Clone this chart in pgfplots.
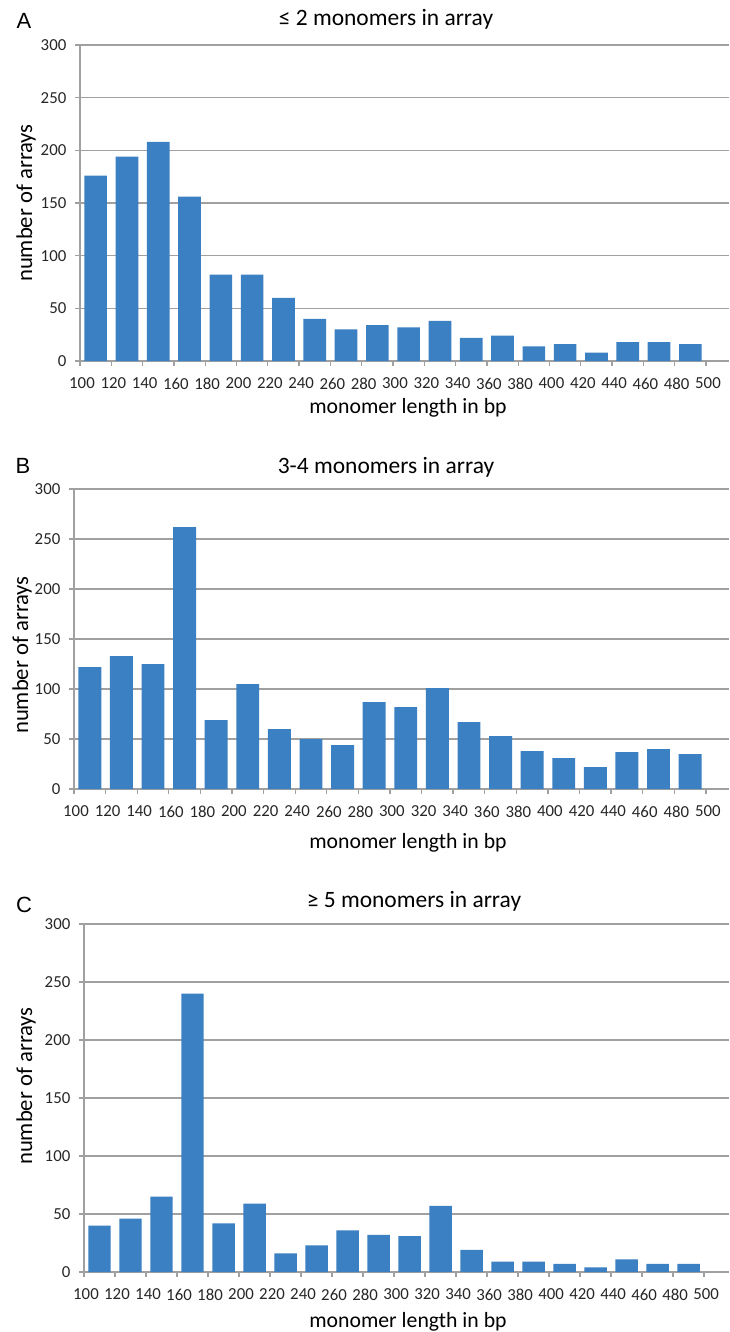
\documentclass[border=0pt]{standalone}
\usepackage{fontspec}
\setmainfont{Carlito}
\newfontfamily\letterfont{Liberation Sans}
\usepackage{pgfplots}
\pgfplotsset{compat=1.18}
\definecolor{barblue}{RGB}{58,128,194}
\definecolor{gridgray}{RGB}{160,160,160}
\pgfplotsset{
  panel/.style={
    scale only axis,
    anchor=south west,
    ymin=0, ymax=300, xmin=100,
    ytick={0,50,...,300},
    xtick={100,120,...,500},
    axis lines*=left,
    axis line style={gridgray, line width=1pt},
    ymajorgrids, grid style={gridgray, line width=1pt},
    tick align=outside,
    major tick length=3.75pt,
    tick style={gridgray, line width=1pt},
    /pgf/number format/assume math mode=true,
    tick label style={font=\fontsize{12.6}{14}\selectfont, text=black!85},
    xticklabel style={yshift=-5.5pt, xshift=1.5pt},
    yticklabel style={xshift=-3pt},
    ybar, bar width=14.5,
  },
  bars/.style={fill=barblue, draw=none},
}
\begin{document}
\begin{tikzpicture}
\useasboundingbox (0,0) rectangle (546.75pt,-999pt);
% Panel A
\begin{axis}[panel, at={(60pt,-270.75pt)}, width=486.75pt, height=237pt, xmax=514.7]
\addplot[bars] coordinates {
(110,176) (130,194) (150,208) (170,156) (190,82) (210,82) (230,60) (250,40) (270,30) (290,34)
(310,32) (330,38) (350,22) (370,24) (390,14) (410,16) (430,8) (450,18) (470,18) (490,16)};
\end{axis}
% Panel B
\begin{axis}[panel, at={(55.5pt,-591.75pt)}, width=491.25pt, height=225pt, xmax=514.6]
\addplot[bars] coordinates {
(110,122) (130,133) (150,125) (170,262) (190,69) (210,105) (230,60) (250,50) (270,44) (290,87)
(310,82) (330,101) (350,67) (370,53) (390,38) (410,31) (430,22) (450,37) (470,40) (490,35)};
\end{axis}
% Panel C
\begin{axis}[panel, at={(63pt,-954pt)}, width=483.75pt, height=261pt, xmax=516.1]
\addplot[bars] coordinates {
(110,40) (130,46) (150,65) (170,240) (190,42) (210,59) (230,16) (250,23) (270,36) (290,32)
(310,31) (330,57) (350,19) (370,9) (390,9) (410,7) (430,4) (450,11) (470,7) (490,7)};
\end{axis}
\begin{scope}[x=0.75pt,y=-0.75pt]
\tikzset{lab/.style={font=\fontsize{16.3}{18}\selectfont, inner sep=0pt}}
\tikzset{ttl/.style={font=\fontsize{17.6}{19}\selectfont, inner sep=0pt}}
\tikzset{ylab/.style={font=\fontsize{17}{19}\selectfont, inner sep=0pt, rotate=90}}
\tikzset{let/.style={font=\letterfont\fontsize{16.5}{18}\selectfont, inner sep=0pt}}
% letters
\node[let] at (24,21) {A};
\node[let] at (23,466) {B};
\node[let] at (24,905) {C};
% titles
\node[ttl] at (386,19) {≤ 2 monomers in array};
\node[ttl] at (386,467) {3-4 monomers in array};
\node[ttl] at (414,901) {≥ 5 monomers in array};
% x labels
\node[lab] at (408,408) {monomer length in bp};
\node[lab] at (408,843) {monomer length in bp};
\node[lab] at (408,1322) {monomer length in bp};
% y labels
\node[ylab] at (26,203) {number of arrays};
\node[ylab] at (22,655) {number of arrays};
\node[ylab] at (26,1086) {number of arrays};
\end{scope}
\end{tikzpicture}
\end{document}
